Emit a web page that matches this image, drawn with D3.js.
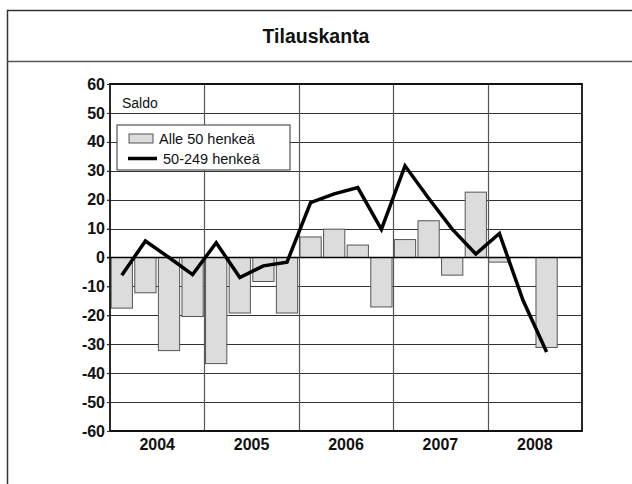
<!DOCTYPE html>
<html>
<head>
<meta charset="utf-8">
<script src="https://cdn.jsdelivr.net/npm/d3@7"></script>
<style>
  body { margin: 0; background: #fff; }
  svg { display: block; font-family: "Liberation Sans", Arial, sans-serif; }
</style>
</head>
<body>
<div id="chart"></div>
<script>
var years = ["2004", "2005", "2006", "2007", "2008"];
var quarters = ["Q1", "Q2", "Q3", "Q4"];
var yTicks = [60, 50, 40, 30, 20, 10, 0, -10, -20, -30, -40, -50, -60];

// Alle 50 henkeä (bars), one value per quarter
var small = [-17.5, -12.2, -32.2, -20.4, -36.7, -19.2, -8.3, -19.2,
             7.1, 9.8, 4.3, -17.1, 6.2, 12.7, -6.1, 22.6,
             -1.6, null, -31.1];
// 50-249 henkeä (line)
var medium = [-6.1, 5.7, 0, -5.9, 5.1, -6.9, -2.9, -1.6,
              19.0, 22.0, 24.2, 9.7, 31.7, 20.5, 9.8, 1.2,
              8.3, -14.8, -32.7];

var W = 632, H = 484;
var margin = {top: 84, right: 50, bottom: 53, left: 110},
    width = W - margin.left - margin.right,
    height = H - margin.top - margin.bottom;

var svg = d3.select("#chart")
  .append("svg")
    .attr("width", W)
    .attr("height", H);

// frame and title
svg.append("path")
  .attr("d", "M" + (W + 2) + ",10.5 H7.5 V" + (H + 2))
  .attr("fill", "none")
  .attr("stroke", "#333")
  .attr("stroke-width", 1.5);
svg.append("line")
  .attr("x1", 7).attr("x2", W)
  .attr("y1", 61.5).attr("y2", 61.5)
  .attr("stroke", "#555")
  .attr("stroke-width", 1.5);
svg.append("text")
  .attr("x", 316)
  .attr("y", 43)
  .attr("text-anchor", "middle")
  .attr("font-size", 19.5)
  .attr("font-weight", "bold")
  .attr("fill", "#111")
  .text("Tilauskanta");

var g = svg.append("g")
  .attr("transform", "translate(" + margin.left + "," + margin.top + ")");

var slots = [];
years.forEach(function(y) {
  quarters.forEach(function(q) { slots.push(y + q); });
});
var data = small.map(function(v, i) {
  return {slot: slots[i], small: v, medium: medium[i]};
});

var xYear = d3.scaleBand().domain(years).range([0, width]);
var x = d3.scaleBand().domain(slots).range([0, width]).paddingInner(0.1).paddingOuter(0.05);
var y = d3.scaleLinear().domain([-60, 60]).range([height, 0]);

// horizontal grid
g.selectAll(".hgrid")
  .data(yTicks.filter(function(d) { return d !== 0; }))
  .enter().append("line")
    .attr("x1", -3).attr("x2", width)
    .attr("y1", function(d) { return Math.round(y(d)) + 0.5; })
    .attr("y2", function(d) { return Math.round(y(d)) + 0.5; })
    .attr("stroke", "#333")
    .attr("stroke-width", 1);

// vertical year dividers
g.selectAll(".vgrid")
  .data(years.slice(1))
  .enter().append("line")
    .attr("x1", function(d) { return Math.round(xYear(d)) + 0.5; })
    .attr("x2", function(d) { return Math.round(xYear(d)) + 0.5; })
    .attr("y1", 0).attr("y2", height)
    .attr("stroke", "#555")
    .attr("stroke-width", 1.2);

// bars
g.selectAll("rect.bar")
  .data(data.filter(function(d) { return d.small !== null; }))
  .enter().append("rect")
    .attr("class", "bar")
    .attr("x", function(d) { return x(d.slot); })
    .attr("width", x.bandwidth())
    .attr("y", function(d) { return y(Math.max(0, d.small)); })
    .attr("height", function(d) { return Math.abs(y(d.small) - y(0)); })
    .attr("fill", "#dcdcdc")
    .attr("stroke", "#555")
    .attr("stroke-width", 1);

// zero line
g.append("line")
  .attr("x1", -3).attr("x2", width)
  .attr("y1", y(0)).attr("y2", y(0))
  .attr("stroke", "#000")
  .attr("stroke-width", 1.5);

// plot border
g.append("path")
  .attr("d", "M0," + height + " V0 H" + width + " V" + height + " H0")
  .attr("fill", "none")
  .attr("stroke", "#111")
  .attr("stroke-width", 1.8);

// line
var line = d3.line()
  .x(function(d) { return x(d.slot) + x.bandwidth() / 2; })
  .y(function(d) { return y(d.medium); });
g.append("path")
  .datum(data)
  .attr("d", line)
  .attr("fill", "none")
  .attr("stroke", "#000")
  .attr("stroke-width", 3.5)
  .attr("stroke-linejoin", "miter");

// y axis labels (plain hyphen for negatives)
var yAxis = d3.axisLeft(y).tickValues(yTicks).tickSize(3).tickPadding(2)
  .tickFormat(function(d) { return String(d); });
var ya = g.append("g").call(yAxis);
ya.select(".domain").remove();
ya.selectAll("line").attr("stroke", "#333");
ya.selectAll("text")
  .attr("font-size", 16)
  .attr("font-weight", "bold")
  .attr("font-family", "Liberation Sans, Arial, sans-serif")
  .attr("fill", "#111");

// x axis year labels
var xAxis = d3.axisBottom(xYear).tickSize(0).tickPadding(8);
var xa = g.append("g").attr("transform", "translate(0," + height + ")").call(xAxis);
xa.select(".domain").remove();
xa.selectAll("text")
  .attr("font-size", 16)
  .attr("font-weight", "bold")
  .attr("font-family", "Liberation Sans, Arial, sans-serif")
  .attr("fill", "#111");

// Saldo label
g.append("text")
  .attr("x", 12)
  .attr("y", 23.5)
  .attr("font-size", 14)
  .attr("fill", "#111")
  .text("Saldo");

// legend
var lg = g.append("g").attr("transform", "translate(7,41)");
lg.append("rect")
  .attr("x", 0).attr("y", 0)
  .attr("width", 173).attr("height", 45)
  .attr("fill", "#fff")
  .attr("stroke", "#555")
  .attr("stroke-width", 1.2);
lg.append("rect")
  .attr("x", 12).attr("y", 9)
  .attr("width", 24).attr("height", 9)
  .attr("fill", "#dcdcdc")
  .attr("stroke", "#555");
lg.append("text")
  .attr("x", 42).attr("y", 19)
  .attr("font-size", 14.5)
  .attr("fill", "#111")
  .text("Alle 50 henkeä");
lg.append("line")
  .attr("x1", 11).attr("x2", 40)
  .attr("y1", 33.5).attr("y2", 33.5)
  .attr("stroke", "#000")
  .attr("stroke-width", 3.5);
lg.append("text")
  .attr("x", 46).attr("y", 38.5)
  .attr("font-size", 14.5)
  .attr("fill", "#111")
  .text("50-249 henkeä");
</script>
</body>
</html>
